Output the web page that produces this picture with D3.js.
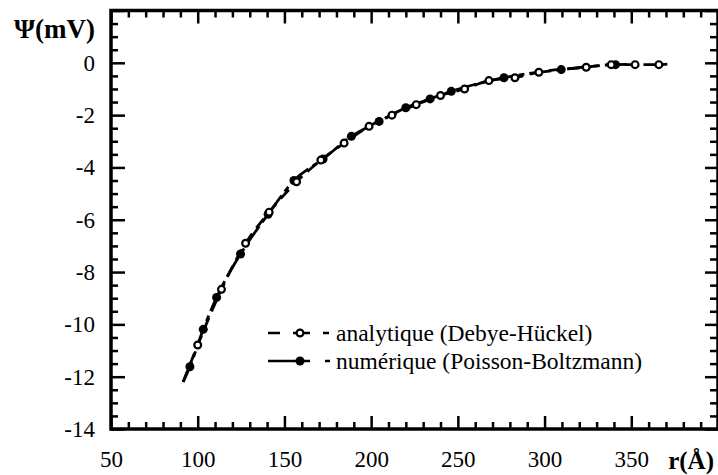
<!DOCTYPE html>
<html><head><meta charset="utf-8">
<script src="https://cdn.jsdelivr.net/npm/d3@7"></script>
<style>
body{margin:0;background:#fff;}
svg{display:block;}
</style></head>
<body><svg id="c" width="718" height="475"></svg>
<script>
// ---- data ----
const xTicks = [50,100,150,200,250,300,350];
const yTicks = [0,-2,-4,-6,-8,-10,-12,-14];
const xLabel = "r(Å)";
const yLabel = "Ψ(mV)";
const seriesNames = ["analytique (Debye-Hückel)", "numérique (Poisson-Boltzmann)"];
// analytique (open circles)
const anaR = [100,113.7,127.6,141.2,157,171,184.4,198.8,212,226,240,253.9,267.9,282.9,296.7,324,338.4,352.2,365.9];
const anaV = [-10.79,-8.66,-6.9,-5.71,-4.55,-3.72,-3.07,-2.43,-2.0,-1.6,-1.25,-1.0,-0.68,-0.57,-0.36,-0.17,-0.07,-0.07,-0.07];
// numérique (filled dots)
const numR = [95.5,103.2,110.9,124.7,140.6,155.5,172.3,188.6,204.6,220,234,246.2,276.6,309.6,340.9];
const numV = [-11.62,-10.19,-8.97,-7.31,-5.79,-4.5,-3.68,-2.81,-2.24,-1.72,-1.38,-1.09,-0.57,-0.26,-0.07];
// curve end points (lines extend beyond markers)
const curveStart = [91.6,-12.2];
const anaEnd = [370.8,-0.05];
const numEnd = [350,-0.06];

// ---- layout ----
const FONT = 'Liberation Serif';
const svg = d3.select("#c");
const L=111, R=718, T=10.5, B=429;
const x = d3.scaleLinear().domain([50,400]).range([L,R]);
const y = d3.scaleLinear().domain([-14,2]).range([B,T]);

const xMinor = d3.range(50,401,10).filter(v=>v%50!==0);
const xMajor = d3.range(50,401,50);
const yMinor = d3.range(-14,2.01,0.5).filter(v=>Math.abs(v%2)>0.01);
const yMajor = d3.range(-14,2.01,2);

function tickAxis(gen, scale, vals, size, tr){
  const g = svg.append("g").attr("transform",tr)
    .call(gen(scale).tickValues(vals).tickSize(size).tickFormat(""));
  g.select(".domain").remove();
  g.selectAll("line").attr("stroke","#000").attr("stroke-width",2.5);
}
tickAxis(d3.axisBottom,x,xMinor,-7,`translate(0,${B})`);
tickAxis(d3.axisBottom,x,xMajor,-13,`translate(0,${B})`);
tickAxis(d3.axisTop,x,xMinor,-7,`translate(0,${T})`);
tickAxis(d3.axisTop,x,xMajor,-13,`translate(0,${T})`);
tickAxis(d3.axisLeft,y,yMinor,-7,`translate(${L},0)`);
tickAxis(d3.axisLeft,y,yMajor,-14,`translate(${L},0)`);
tickAxis(d3.axisRight,y,yMinor,-8,`translate(${R},0)`);
tickAxis(d3.axisRight,y,yMajor,-13,`translate(${R},0)`);

svg.append("rect").attr("x",L).attr("y",T).attr("width",R-L).attr("height",B-T)
  .attr("fill","none").attr("stroke","#000").attr("stroke-width",3.5);

// tick labels
const gx = svg.append("g").attr("transform",`translate(0,${B})`)
  .call(d3.axisBottom(x).tickValues(xTicks).tickSize(0).tickPadding(22).tickFormat(d=>d));
gx.select(".domain").remove();
gx.attr("font-family",FONT).attr("font-size",23);
gx.selectAll("text").attr("fill","#000");
const gy = svg.append("g").attr("transform",`translate(${L},0)`)
  .call(d3.axisLeft(y).tickValues(yTicks).tickSize(0).tickPadding(16).tickFormat(d=>d));
gy.select(".domain").remove();
gy.attr("font-family",FONT).attr("font-size",23);
gy.selectAll("text").attr("fill","#000");

svg.append("text").attr("x",714).attr("y",469).attr("text-anchor","end")
  .attr("font-family",FONT).attr("font-size",25).attr("font-weight","bold").text(xLabel);
svg.append("text").attr("x",95).attr("y",38).attr("text-anchor","end")
  .attr("font-family",FONT).attr("font-size",27).attr("font-weight","bold").text(yLabel);

// curves
const line = d3.line().x(d=>x(d[0])).y(d=>y(d[1])).curve(d3.curveMonotoneX);
const anaPts = anaR.map((r,i)=>[r,anaV[i]]);
const numPts = numR.map((r,i)=>[r,numV[i]]);
const dashA = "12,7", dashN = "22,5,6,5";
svg.append("path").datum([curveStart,...numPts,numEnd]).attr("d",line)
  .attr("fill","none").attr("stroke","#000").attr("stroke-width",2.8).attr("stroke-dasharray",dashN);
svg.append("path").datum([curveStart,...anaPts,anaEnd]).attr("d",line)
  .attr("fill","none").attr("stroke","#000").attr("stroke-width",2.8).attr("stroke-dasharray",dashA);

svg.append("g").selectAll("circle").data(numPts).join("circle")
  .attr("cx",d=>x(d[0])).attr("cy",d=>y(d[1])).attr("r",4.5).attr("fill","#000");
svg.append("g").selectAll("circle").data(anaPts).join("circle")
  .attr("cx",d=>x(d[0])).attr("cy",d=>y(d[1])).attr("r",3.4).attr("fill","#fff")
  .attr("stroke","#000").attr("stroke-width",2.2);

// legend
const leg = svg.append("g");
const ly = [333,361];
leg.append("line").attr("x1",268).attr("x2",330).attr("y1",ly[0]).attr("y2",ly[0])
  .attr("stroke","#000").attr("stroke-width",2.5).attr("stroke-dasharray","12,13,17,13,6");
leg.append("circle").attr("cx",300).attr("cy",ly[0]).attr("r",3.4).attr("fill","#fff")
  .attr("stroke","#000").attr("stroke-width",2.2);
leg.append("line").attr("x1",268).attr("x2",330).attr("y1",ly[1]).attr("y2",ly[1])
  .attr("stroke","#000").attr("stroke-width",2.5).attr("stroke-dasharray","42,15,6");
leg.append("circle").attr("cx",300).attr("cy",ly[1]).attr("r",4.5).attr("fill","#000");
seriesNames.forEach((s,i)=>{
  leg.append("text").attr("x",336).attr("y",ly[i]+8).attr("font-family",FONT).attr("font-size",23.5).text(s);
});
</script></body></html>
